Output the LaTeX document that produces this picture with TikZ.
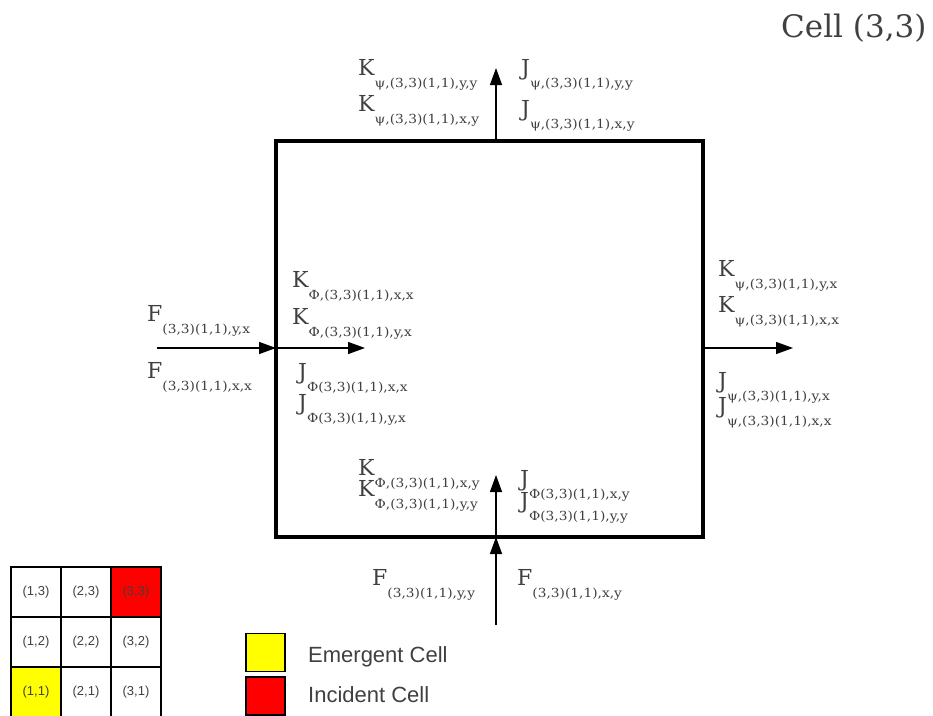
\documentclass[tikz,border=0pt]{standalone}
\usepackage{fontspec}
\setmainfont{DejaVu Serif}
\newfontfamily\labfont[FakeStretch=1.1]{DejaVu Serif}
\newfontfamily\arialf{Liberation Sans}
\usetikzlibrary{arrows.meta}
\definecolor{txt}{HTML}{404040}
\definecolor{yel}{HTML}{FFFF00}
\definecolor{rd}{HTML}{FF0000}
\newcommand\lbl[2]{{\fontsize{22}{22}\selectfont #1}\raisebox{-12pt}{\labfont\fontsize{12.5}{12.5}\selectfont #2}}
\begin{document}
\begin{tikzpicture}[x=1pt,y=-1pt,
  every node/.style={text=txt,inner sep=0pt},
  lab/.style={anchor=base west},
  arr/.style={-{Triangle[length=17pt,width=12pt]}, line width=1.3pt},
  gcell/.style={draw=black, line width=1.5pt, minimum width=50pt, minimum height=50pt, font=\arialf\fontsize{13}{13}\selectfont},
  legbox/.style={draw=black, line width=1.5pt, minimum width=39pt, minimum height=38pt},
  legtxt/.style={anchor=base west, font=\arialf\fontsize{22}{22}\selectfont}]
\useasboundingbox (0,0) rectangle (933,715);

% main cell
\node[draw=black, line width=3.5pt, minimum width=427pt, minimum height=396pt] (cell) at (489.5,339) {};
\node[anchor=base west, font=\fontsize{31}{31}\selectfont] (title) at (781,37) {Cell (3,3)};

% connector end points
\coordinate (tB) at (496,141);
\coordinate (tT) at (496,68);
\coordinate (lS) at (157,348);
\coordinate (lB) at (276,348);
\coordinate (lI) at (365,348);
\coordinate (rB) at (703,348);
\coordinate (rT) at (793,348);
\coordinate (bS) at (496,625);
\coordinate (bB) at (496,537);
\coordinate (bI) at (496,475);

\draw[arr] (tB) -- (tT);
\draw[arr] (lS) -- (lB);
\draw[arr] (lB) -- (lI);
\draw[arr] (rB) -- (rT);
\draw[arr] (bS) -- (bB);
\draw[arr] (bB) -- (bI);

% top labels
\node[lab] (t1) at (358,75) {\lbl{K}{ψ,(3,3)(1,1),y,y}};
\node[lab] (t2) at (358,111) {\lbl{K}{ψ,(3,3)(1,1),x,y}};
\node[lab] (t3) at (521,75) {\lbl{J}{ψ,(3,3)(1,1),y,y}};
\node[lab] (t4) at (521,116) {\lbl{J}{ψ,(3,3)(1,1),x,y}};

% left labels
\node[lab] (l1) at (147,321) {\lbl{F}{(3,3)(1,1),y,x}};
\node[lab] (l2) at (147,378) {\lbl{F}{(3,3)(1,1),x,x}};
\node[lab] (i1) at (292,287) {\lbl{K}{Φ,(3,3)(1,1),x,x}};
\node[lab] (i2) at (292,324) {\lbl{K}{Φ,(3,3)(1,1),y,x}};
\node[lab] (i3) at (298,379) {\lbl{J}{Φ(3,3)(1,1),x,x}};
\node[lab] (i4) at (298,410) {\lbl{J}{Φ(3,3)(1,1),y,x}};

% right labels
\node[lab] (r1) at (718,276) {\lbl{K}{ψ,(3,3)(1,1),y,x}};
\node[lab] (r2) at (718,312) {\lbl{K}{ψ,(3,3)(1,1),x,x}};
\node[lab] (r3) at (718,388) {\lbl{J}{ψ,(3,3)(1,1),y,x}};
\node[lab] (r4) at (718,413) {\lbl{J}{ψ,(3,3)(1,1),x,x}};

% bottom inside labels
\node[lab] (b1) at (358,475) {\lbl{K}{Φ,(3,3)(1,1),x,y}};
\node[lab] (b2) at (358,496) {\lbl{K}{Φ,(3,3)(1,1),y,y}};
\node[lab] (b3) at (520,486) {\lbl{J}{Φ(3,3)(1,1),x,y}};
\node[lab] (b4) at (520,508) {\lbl{J}{Φ(3,3)(1,1),y,y}};

% bottom outside labels
\node[lab] (f1) at (372,585) {\lbl{F}{(3,3)(1,1),y,y}};
\node[lab] (f2) at (517,585) {\lbl{F}{(3,3)(1,1),x,y}};

% grid
\node[gcell] (g13) at (36,592) {(1,3)};
\node[gcell] (g23) at (86,592) {(2,3)};
\node[gcell, fill=rd] (g33) at (136,592) {(3,3)};
\node[gcell] (g12) at (36,642) {(1,2)};
\node[gcell] (g22) at (86,642) {(2,2)};
\node[gcell] (g32) at (136,642) {(3,2)};
\node[gcell, fill=yel] (g11) at (36,692) {(1,1)};
\node[gcell] (g21) at (86,692) {(2,1)};
\node[gcell] (g31) at (136,692) {(3,1)};

% legend
\node[legbox, fill=yel] (ly) at (265.5,652.5) {};
\node[legbox, fill=rd] (lr) at (265.5,696) {};
\node[legtxt] (lyt) at (308,662) {Emergent Cell};
\node[legtxt] (lrt) at (308,702) {Incident Cell};
\end{tikzpicture}
\end{document}
